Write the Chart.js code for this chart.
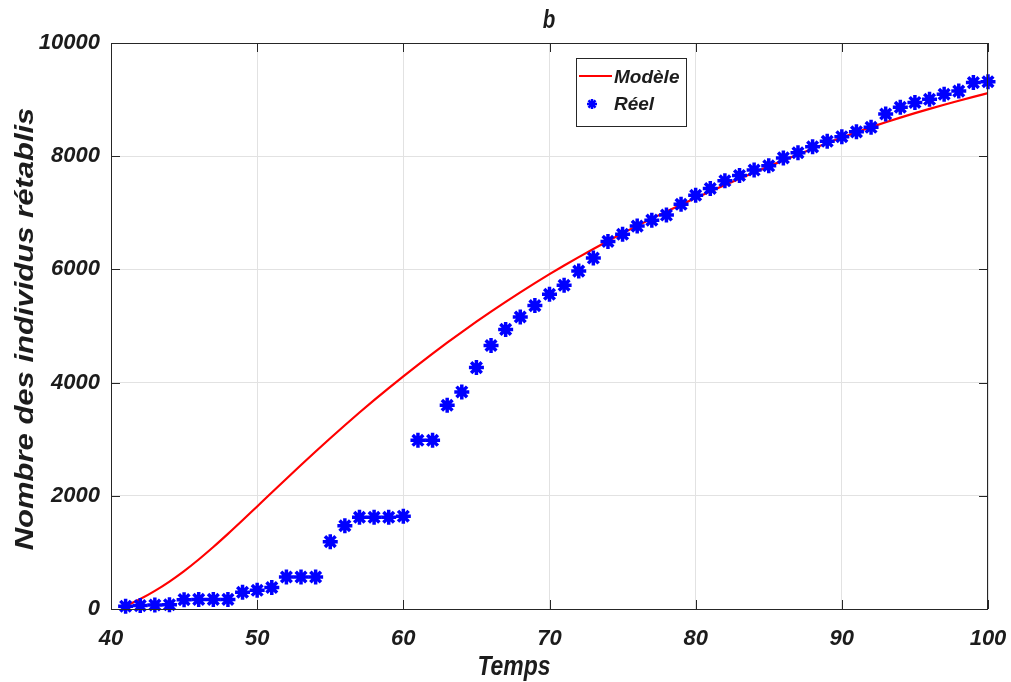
<!DOCTYPE html>
<html lang="fr">
<head>
<meta charset="utf-8">
<title>b</title>
<script src="https://cdn.jsdelivr.net/npm/chart.js@4.4.1/dist/chart.umd.min.js"></script>
<style>
  html, body { margin: 0; padding: 0; background: #fff; }
  #wrap { width: 1011px; height: 682px; position: relative; }
</style>
</head>
<body>
<div id="wrap"><canvas id="courbe"></canvas></div>
<script>
// Temps (jours) et nombre d'individus rétablis
const jours = [41, 42, 43, 44, 45, 46, 47, 48, 49, 50,
    51, 52, 53, 54, 55, 56, 57, 58, 59, 60,
    61, 62, 63, 64, 65, 66, 67, 68, 69, 70,
    71, 72, 73, 74, 75, 76, 77, 78, 79, 80,
    81, 82, 83, 84, 85, 86, 87, 88, 89, 90,
    91, 92, 93, 94, 95, 96, 97, 98, 99, 100];

const reel = [50, 60, 70, 75, 165, 170, 170, 170, 295, 330,
    380, 565, 565, 565, 1190, 1470, 1620, 1620, 1620, 1640,
    2980, 2980, 3600, 3835, 4265, 4655, 4940, 5160, 5360, 5560,
    5720, 5970, 6200, 6495, 6620, 6765, 6870, 6960, 7150, 7310,
    7430, 7565, 7660, 7755, 7830, 7970, 8060, 8165, 8265, 8345,
    8430, 8510, 8745, 8865, 8950, 9005, 9095, 9150, 9300, 9315];

const modele = [50, 175, 320, 485, 670, 875, 1095, 1327, 1567, 1812,
    2057, 2301, 2543, 2782, 3017, 3247, 3472, 3691, 3904, 4111,
    4314, 4512, 4705, 4893, 5076, 5254, 5427, 5595, 5758, 5916,
    6069, 6217, 6361, 6501, 6637, 6769, 6897, 7021, 7142, 7260,
    7376, 7490, 7602, 7712, 7820, 7926, 8030, 8132, 8232, 8330,
    8424, 8514, 8600, 8682, 8761, 8837, 8910, 8980, 9048, 9114];

const xTicks = [40, 50, 60, 70, 80, 90, 100];
const yTicks = [0, 2000, 4000, 6000, 8000, 10000];

const TEXT = '#1c1c1c';
const AXIS = '#262626';
const SANS = "'Liberation Sans', Arial, sans-serif";

function drawStar(ctx, x, y, r, lw) {
    ctx.save();
    ctx.strokeStyle = '#0000ff';
    ctx.lineWidth = lw;
    ctx.beginPath();
    for (let k = 0; k < 4; k++) {
        const a = k * Math.PI / 4;
        ctx.moveTo(x - r * Math.cos(a), y - r * Math.sin(a));
        ctx.lineTo(x + r * Math.cos(a), y + r * Math.sin(a));
    }
    ctx.stroke();
    ctx.restore();
}

// narrow-looking text: squeeze the glyphs along the reading direction
function texteEtroit(ctx, txt, x, y, size) {
    ctx.save();
    ctx.translate(x, y);
    ctx.scale(0.82, 1);
    ctx.font = 'italic bold ' + size + 'px ' + SANS;
    ctx.fillText(txt, 0, 0);
    ctx.restore();
}

// box, inward ticks, titles and legend, drawn over the plot
const cadre = {
    id: 'cadre',
    afterDraw(chart) {
        const { ctx, chartArea: a, scales } = chart;
        ctx.save();
        ctx.strokeStyle = AXIS;
        ctx.lineWidth = 1;
        ctx.strokeRect(a.left + 0.5, a.top + 0.5, a.right - a.left - 1, a.bottom - a.top);
        ctx.beginPath();
        xTicks.forEach(v => {
            const px = Math.round(scales.x.getPixelForValue(v)) + 0.5;
            ctx.moveTo(px, a.bottom); ctx.lineTo(px, a.bottom - 9);
            ctx.moveTo(px, a.top); ctx.lineTo(px, a.top + 9);
        });
        yTicks.forEach(v => {
            const py = Math.round(scales.y.getPixelForValue(v)) + 0.5;
            ctx.moveTo(a.left, py); ctx.lineTo(a.left + 9, py);
            ctx.moveTo(a.right, py); ctx.lineTo(a.right - 9, py);
        });
        ctx.stroke();

        ctx.fillStyle = TEXT;
        ctx.textAlign = 'center';
        ctx.textBaseline = 'alphabetic';
        texteEtroit(ctx, 'b', 549, 28, 25);
        texteEtroit(ctx, 'Temps', 514, 675, 28);

        ctx.save();
        ctx.translate(26, 329);
        ctx.rotate(-Math.PI / 2);
        ctx.scale(1, 0.82);
        ctx.textBaseline = 'middle';
        ctx.font = 'italic bold 31px ' + SANS;
        ctx.fillText('Nombre des individus rétablis', 0, 0);
        ctx.restore();

        // légende
        ctx.fillStyle = '#fff';
        ctx.fillRect(576, 58, 111, 69);
        ctx.strokeRect(576.5, 58.5, 110, 68);
        ctx.strokeStyle = '#ff0000';
        ctx.lineWidth = 2;
        ctx.beginPath();
        ctx.moveTo(579, 76); ctx.lineTo(612, 76);
        ctx.stroke();
        drawStar(ctx, 592, 104, 5, 2.5);
        ctx.fillStyle = TEXT;
        ctx.textAlign = 'left';
        ctx.font = 'italic bold 19px ' + SANS;
        ctx.fillText('Modèle', 614, 83);
        ctx.fillText('Réel', 614, 110);
        ctx.restore();
    }
};

const tickFont = { family: SANS, size: 22, style: 'italic', weight: 'bold' };

new Chart(document.getElementById('courbe'), {
    type: 'scatter',
    data: {
        datasets: [
            {
                label: 'Réel',
                data: jours.map((t, i) => ({ x: t, y: reel[i] })),
                pointStyle: 'star',
                pointRadius: 7.5,
                pointBorderWidth: 3.5,
                borderColor: '#0000ff',
                backgroundColor: '#0000ff',
                showLine: false,
                clip: false,
                order: 0
            },
            {
                type: 'line',
                label: 'Modèle',
                data: jours.map((t, i) => ({ x: t, y: modele[i] })),
                borderColor: '#ff0000',
                borderWidth: 2.2,
                pointRadius: 0,
                cubicInterpolationMode: 'monotone',
                fill: false,
                order: 1
            }
        ]
    },
    options: {
        responsive: true,
        maintainAspectRatio: false,
        animation: false,
        layout: { padding: { left: 0, right: 23, top: 43, bottom: 0 } },
        plugins: {
            legend: { display: false },
            tooltip: { enabled: false }
        },
        scales: {
            x: {
                type: 'linear',
                min: 40,
                max: 100,
                afterBuildTicks: s => { s.ticks = xTicks.map(v => ({ value: v })); },
                afterFit: s => { s.height = 73; s.paddingLeft = 0; s.paddingRight = 0; },
                grid: { color: '#e2e2e2', drawTicks: false },
                border: { display: false },
                ticks: { color: TEXT, font: tickFont, padding: 17, maxRotation: 0, callback: v => String(v) }
            },
            y: {
                min: 0,
                max: 10000,
                afterBuildTicks: s => { s.ticks = yTicks.map(v => ({ value: v })); },
                afterFit: s => { s.width = 111; s.paddingTop = 0; s.paddingBottom = 0; },
                grid: { color: '#e2e2e2', drawTicks: false },
                border: { display: false },
                ticks: { color: TEXT, font: tickFont, padding: 11, callback: v => String(v) }
            }
        }
    },
    plugins: [cadre]
});
</script>
</body>
</html>
